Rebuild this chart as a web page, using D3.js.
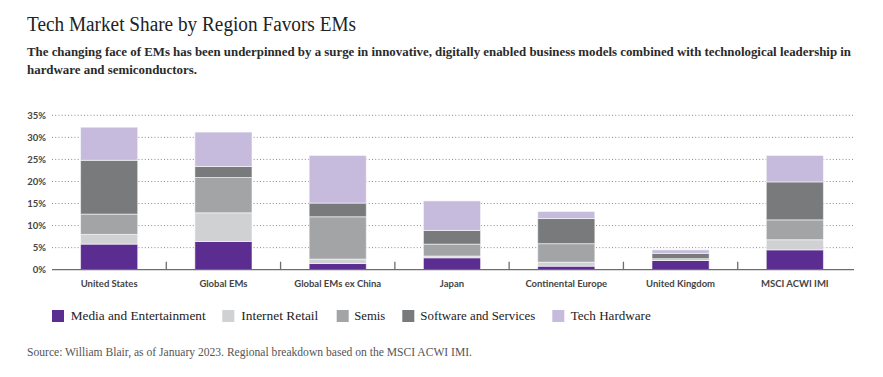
<!DOCTYPE html>
<html><head><meta charset="utf-8">
<script src="https://cdn.jsdelivr.net/npm/d3@7"></script>
<style>body{margin:0;background:#fff}svg{display:block}</style>
</head><body>
<svg id="c" width="883" height="377"></svg>
<script>
const categories = ["United States","Global EMs","Global EMs ex China","Japan","Continental Europe","United Kingdom","MSCI ACWI IMI"];
const seriesNames = ["Media and Entertainment","Internet Retail","Semis","Software and Services","Tech Hardware"];
const media    = [5.8, 6.4, 1.4, 2.7, 0.8, 2.1, 4.5];
const retail   = [2.2, 6.5, 1.0, 0.4, 0.9, 0.1, 2.3];
const semis    = [4.6, 8.0, 9.6, 2.7, 4.2, 0.3, 4.5];
const software = [12.2, 2.5, 3.1, 3.1, 5.7, 1.2, 8.6];
const hardware = [7.5, 7.8, 10.8, 6.7, 1.6, 0.8, 6.0];
const yTicks = [0,5,10,15,20,25,30,35];
const colors = ["#5c2d91","#d0d1d3","#a3a4a6","#797a7c","#c6bbdc"];

const svg = d3.select("#c");
const serif = "'Liberation Serif','DejaVu Serif',serif";
const sans = "Lato,'Liberation Sans',Arial,sans-serif";

// Title & subtitle
svg.append("text").attr("x",27).attr("y",31).attr("font-family",serif).attr("font-size",20)
  .attr("fill","#222").attr("textLength",329).attr("lengthAdjust","spacingAndGlyphs")
  .text("Tech Market Share by Region Favors EMs");
svg.append("text").attr("x",27).attr("y",56).attr("font-family",serif).attr("font-size",12.5).attr("font-weight","bold")
  .attr("fill","#2a2a2a").attr("textLength",824).attr("lengthAdjust","spacingAndGlyphs")
  .text("The changing face of EMs has been underpinned by a surge in innovative, digitally enabled business models combined with technological leadership in");
svg.append("text").attr("x",27).attr("y",74).attr("font-family",serif).attr("font-size",12.5).attr("font-weight","bold")
  .attr("fill","#2a2a2a").attr("textLength",170).attr("lengthAdjust","spacingAndGlyphs")
  .text("hardware and semiconductors.");

// Scales
const x = d3.scaleBand().domain(categories).range([52,852]).paddingInner(0.5).paddingOuter(0.25);
const y = d3.scaleLinear().domain([0,35]).range([269.7,115.3]);

// Grid
svg.append("g").selectAll("line").data(yTicks.filter(d=>d>0)).join("line")
  .attr("x1",52).attr("x2",854).attr("y1",d=>y(d)).attr("y2",d=>y(d))
  .attr("stroke","#8a8a8a").attr("stroke-width",1).attr("stroke-dasharray","1,2.2");

// Y axis labels
svg.append("g").selectAll("text").data(yTicks).join("text")
  .attr("x",46).attr("y",d=>y(d)+3.5).attr("text-anchor","end")
  .attr("font-family",sans).attr("font-size",9.5).attr("font-weight","bold").attr("fill","#444").text(d=>d+"%");

// Stack
const data = categories.map((c,i)=>({cat:c, s0:media[i], s1:retail[i], s2:semis[i], s3:software[i], s4:hardware[i]}));
const stack = d3.stack().keys(["s0","s1","s2","s3","s4"])(data);
svg.append("g").selectAll("g").data(stack).join("g").attr("fill",(d,i)=>colors[i])
  .selectAll("rect").data(d=>d).join("rect")
  .attr("x",d=>x(d.data.cat)).attr("width",x.bandwidth())
  .attr("y",d=>y(d[1])).attr("height",d=>Math.max(0,y(d[0])-y(d[1])))
  .attr("stroke","#fff").attr("stroke-opacity",0.55).attr("stroke-width",1);

// Axis line and separators
svg.append("line").attr("x1",52).attr("x2",854).attr("y1",y(0)).attr("y2",y(0))
  .attr("stroke","#6d6d6d").attr("stroke-width",1.3);
const step = x.step();
svg.append("g").selectAll("line").data(categories.slice(1)).join("line")
  .attr("x1",d=>x(d)-step*0.25).attr("x2",d=>x(d)-step*0.25)
  .attr("y1",y(0)-8).attr("y2",y(0)).attr("stroke","#6d6d6d").attr("stroke-width",1.3);

// Category labels
svg.append("g").selectAll("text").data(categories).join("text")
  .attr("x",d=>x(d)+x.bandwidth()/2).attr("y",286.5).attr("text-anchor","middle")
  .attr("font-family",sans).attr("font-size",9.5).attr("font-weight","bold").attr("fill","#444").text(d=>d);

// Legend
const legX = [52,222.3,336.7,402.3,552.3];
const legTextX = [18.7,19,17.6,18,18.4];
const legW = [135,77,31,115,80];
const lg = svg.append("g").selectAll("g").data(seriesNames).join("g")
  .attr("transform",(d,i)=>`translate(${legX[i]},310)`);
lg.append("rect").attr("width",12).attr("height",12).attr("fill",(d,i)=>colors[i]);
lg.append("text").attr("x",(d,i)=>legTextX[i]).attr("y",9.8).attr("font-family",serif).attr("font-size",12.5)
  .attr("fill","#222").attr("textLength",(d,i)=>legW[i]).attr("lengthAdjust","spacingAndGlyphs").text(d=>d);

// Source
svg.append("text").attr("x",27).attr("y",356).attr("font-family",serif).attr("font-size",12)
  .attr("fill","#555").attr("textLength",445).attr("lengthAdjust","spacingAndGlyphs")
  .text("Source: William Blair, as of January 2023. Regional breakdown based on the MSCI ACWI IMI.");
</script>
</body></html>
